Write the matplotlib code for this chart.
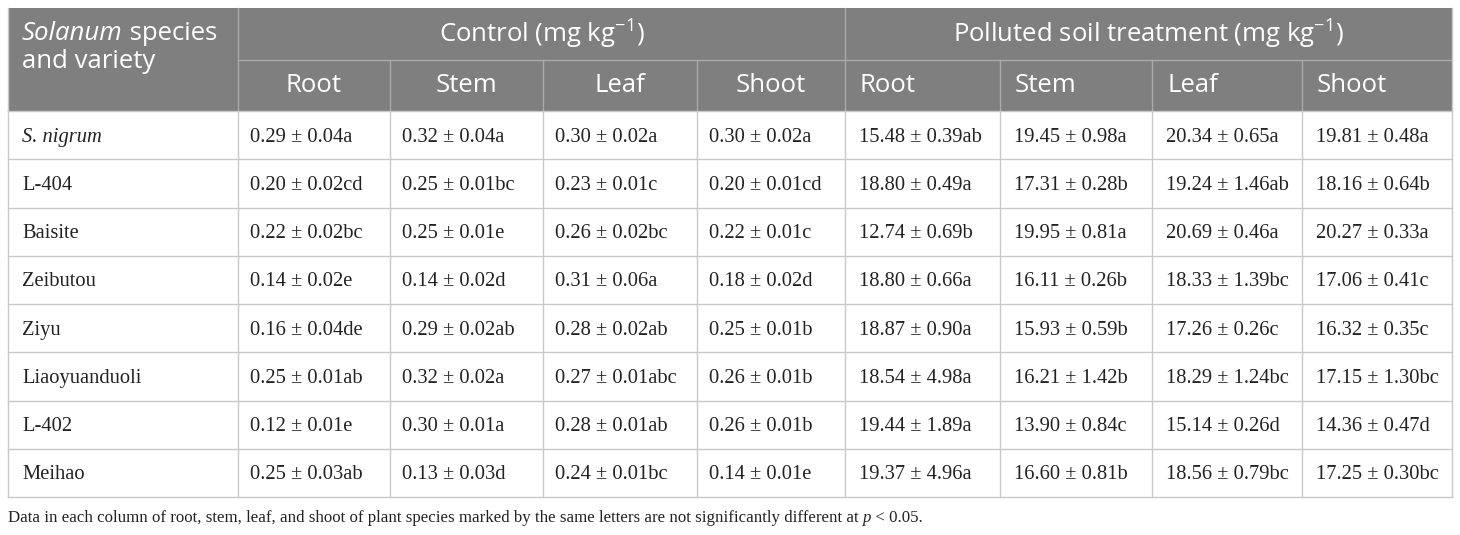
import matplotlib.pyplot as plt
from matplotlib.patches import Rectangle

plt.rcParams['mathtext.fontset'] = 'custom'
plt.rcParams['mathtext.rm'] = 'Open Sans'

# table content
species = ["S. nigrum", "L-404", "Baisite", "Zeibutou", "Ziyu",
           "Liaoyuanduoli", "L-402", "Meihao"]
parts = ["Root", "Stem", "Leaf", "Shoot"]

control = [
    ["0.29 ± 0.04a", "0.32 ± 0.04a", "0.30 ± 0.02a", "0.30 ± 0.02a"],
    ["0.20 ± 0.02cd", "0.25 ± 0.01bc", "0.23 ± 0.01c", "0.20 ± 0.01cd"],
    ["0.22 ± 0.02bc", "0.25 ± 0.01e", "0.26 ± 0.02bc", "0.22 ± 0.01c"],
    ["0.14 ± 0.02e", "0.14 ± 0.02d", "0.31 ± 0.06a", "0.18 ± 0.02d"],
    ["0.16 ± 0.04de", "0.29 ± 0.02ab", "0.28 ± 0.02ab", "0.25 ± 0.01b"],
    ["0.25 ± 0.01ab", "0.32 ± 0.02a", "0.27 ± 0.01abc", "0.26 ± 0.01b"],
    ["0.12 ± 0.01e", "0.30 ± 0.01a", "0.28 ± 0.01ab", "0.26 ± 0.01b"],
    ["0.25 ± 0.03ab", "0.13 ± 0.03d", "0.24 ± 0.01bc", "0.14 ± 0.01e"],
]
polluted = [
    ["15.48 ± 0.39ab", "19.45 ± 0.98a", "20.34 ± 0.65a", "19.81 ± 0.48a"],
    ["18.80 ± 0.49a", "17.31 ± 0.28b", "19.24 ± 1.46ab", "18.16 ± 0.64b"],
    ["12.74 ± 0.69b", "19.95 ± 0.81a", "20.69 ± 0.46a", "20.27 ± 0.33a"],
    ["18.80 ± 0.66a", "16.11 ± 0.26b", "18.33 ± 1.39bc", "17.06 ± 0.41c"],
    ["18.87 ± 0.90a", "15.93 ± 0.59b", "17.26 ± 0.26c", "16.32 ± 0.35c"],
    ["18.54 ± 4.98a", "16.21 ± 1.42b", "18.29 ± 1.24bc", "17.15 ± 1.30bc"],
    ["19.44 ± 1.89a", "13.90 ± 0.84c", "15.14 ± 0.26d", "14.36 ± 0.47d"],
    ["19.37 ± 4.96a", "16.60 ± 0.81b", "18.56 ± 0.79bc", "17.25 ± 0.30bc"],
]
group_labels = [r"Control (mg kg$^{\mathregular{-1}}$)",
                r"Polluted soil treatment (mg kg$^{\mathregular{-1}}$)"]
footnote_a = "Data in each column of root, stem, leaf, and shoot of plant species marked by the same letters are not significantly different at "
footnote_b = "p"
footnote_c = " < 0.05."

# layout in pixels
col_x = [8, 238, 390, 543, 697, 845, 1000, 1152, 1302, 1452]
top, mid, head_bot = 8, 60, 111
row_h = 48.25

head_bg = '#7f7f7f'
head_line = '#a9a9a9'
body_line = '#c8c8c8'
sans = 'Open Sans'
serif = 'Liberation Serif'
hfs = 18.5   # header font size
bfs = 14.8   # body font size
ffs = 12.2   # footnote font size

fig = plt.figure(figsize=(14.6, 5.35), dpi=100)
ax = fig.add_axes([0, 0, 1, 1])
ax.set_xlim(0, 1460)
ax.set_ylim(535, 0)
ax.axis('off')

# header background
ax.add_patch(Rectangle((col_x[0], top), col_x[-1] - col_x[0], head_bot - top,
                       facecolor=head_bg, edgecolor='none'))
ax.plot([col_x[1], col_x[-1]], [mid, mid], color=head_line, lw=1)
for i in range(1, 9):
    y0 = top if i in (1, 5) else mid
    ax.plot([col_x[i], col_x[i]], [y0, head_bot], color=head_line, lw=1)

# header text
r = fig.canvas.get_renderer()
t = ax.text(22, 33, "Solanum", fontsize=hfs, family=sans, style='italic',
            color='white', va='center', ha='left')
bb = t.get_window_extent(r).transformed(ax.transData.inverted())
ax.text(bb.x1, 33, " species", fontsize=hfs, family=sans, color='white',
        va='center', ha='left')
ax.text(22, 62, "and variety", fontsize=hfs, family=sans, color='white',
        va='center', ha='left')
ax.text((col_x[1] + col_x[5]) / 2, 33, group_labels[0], fontsize=hfs,
        family=sans, color='white', va='center', ha='center')
ax.text((col_x[5] + col_x[9]) / 2, 33, group_labels[1], fontsize=hfs,
        family=sans, color='white', va='center', ha='center')
for j, p in enumerate(parts):
    ax.text((col_x[1 + j] + col_x[2 + j]) / 2, 86, p, fontsize=hfs,
            family=sans, color='white', va='center', ha='center')
    ax.text(col_x[5 + j] + 15, 86, p, fontsize=hfs, family=sans,
            color='white', va='center', ha='left')

# body
n = len(species)
bottom = head_bot + n * row_h
for k in range(n + 1):
    y = head_bot + k * row_h
    ax.plot([col_x[0], col_x[-1]], [y, y], color=body_line, lw=1)
for x in col_x:
    ax.plot([x, x], [head_bot, bottom], color=body_line, lw=1)
ax.plot([col_x[0], col_x[0]], [top, head_bot], color=body_line, lw=1)
ax.plot([col_x[-1], col_x[-1]], [top, head_bot], color=body_line, lw=1)

for i, name in enumerate(species):
    yc = head_bot + (i + 0.5) * row_h + 2
    ax.text(22, yc, name, fontsize=bfs, family=serif, color='#222222',
            style='italic' if i == 0 else 'normal', va='center', ha='left')
    for j in range(4):
        ax.text(col_x[1 + j] + 12, yc, control[i][j], fontsize=bfs,
                family=serif, color='#222222', va='center', ha='left')
        ax.text(col_x[5 + j] + 14, yc, polluted[i][j], fontsize=bfs,
                family=serif, color='#222222', va='center', ha='left')

# footnote
fy = 518
t = ax.text(8, fy, footnote_a, fontsize=ffs, family=serif, color='#222222',
            va='center', ha='left')
bb = t.get_window_extent(r).transformed(ax.transData.inverted())
t = ax.text(bb.x1, fy, footnote_b, fontsize=ffs, family=serif,
            style='italic', color='#222222', va='center', ha='left')
bb = t.get_window_extent(r).transformed(ax.transData.inverted())
ax.text(bb.x1, fy, footnote_c, fontsize=ffs, family=serif, color='#222222',
        va='center', ha='left')

fig.savefig('out.png', dpi=100)
